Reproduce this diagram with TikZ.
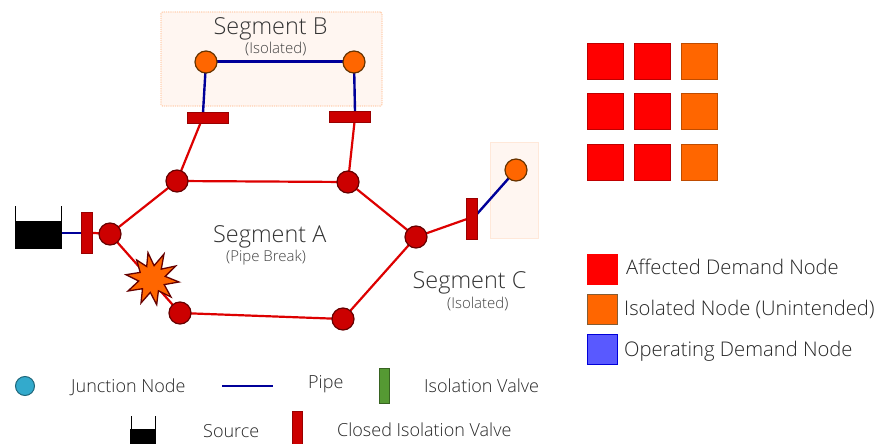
\documentclass[tikz,border=0pt]{standalone}
\usepackage{fontspec}
\setmainfont{Open Sans Light}[BoldFont={Open Sans}]
\definecolor{netred}{HTML}{CC0000}
\definecolor{linered}{HTML}{DD0000}
\definecolor{netredd}{HTML}{660000}
\definecolor{netor}{HTML}{FF6600}
\definecolor{netord}{HTML}{663300}
\definecolor{pipeblue}{HTML}{000099}
\definecolor{pale}{HTML}{FFF6F1}
\definecolor{jteal}{HTML}{33AACC}
\definecolor{vgreen}{HTML}{559933}
\tikzset{
  x=1pt,y=-1pt,
  jn/.style={circle,draw=netredd,fill=netred,line width=1.2pt,minimum size=22pt,inner sep=0pt},
  iso/.style={circle,draw=netord,fill=netor,line width=1.2pt,minimum size=22pt,inner sep=0pt},
  valve/.style={rectangle,draw=#1!75!black,fill=#1,line width=1pt,inner sep=0pt},
  rp/.style={draw=linered,line width=2.2pt},
  bp/.style={draw=pipeblue,line width=2.4pt},
  gs/.style={rectangle,draw=#1!75!black,fill=#1,line width=.8pt,minimum size=36pt,inner sep=0pt},
  ls/.style={rectangle,draw=#1,fill=#1,line width=.8pt,minimum size=30pt,inner sep=0pt},
  big/.style={text=black!80,anchor=base west,inner sep=0pt,font=\fontsize{23.4}{26}\selectfont},
  small/.style={text=black!75,anchor=base west,inner sep=0pt,font=\fontsize{15}{18}\selectfont},
  leg/.style={text=black!85,anchor=base west,inner sep=0pt,font=\fontsize{20.2}{24}\selectfont},
  low/.style={text=black!85,anchor=base west,inner sep=0pt,font=\fontsize{18}{21}\selectfont},
}
\begin{document}
\begin{tikzpicture}
\useasboundingbox (0,0) rectangle (876,444);
% segment backgrounds
\node (segB) at (271.5,59) [rectangle,draw=netor!30,fill=pale,densely dotted,line width=1.2pt,minimum width=221pt,minimum height=94pt,inner sep=0pt,rounded corners=1.5pt] {};
\node (segC) at (514,190) [rectangle,draw=netor!15,fill=pale,line width=.6pt,minimum width=48pt,minimum height=96pt,inner sep=0pt] {};
% node positions
\coordinate (b1) at (206,62);
\coordinate (b2) at (354,62);
\coordinate (c1) at (516,170);
\coordinate (a1) at (177,181);
\coordinate (a2) at (348,182);
\coordinate (a3) at (416,237);
\coordinate (a4) at (343,319);
\coordinate (a5) at (180,313);
\coordinate (a6) at (110,234);
\coordinate (srcR) at (62,232.5);
\coordinate (vb1) at (207.5,118);
\coordinate (vb2) at (350,116.5);
\coordinate (vl) at (86.5,232.5);
\coordinate (vc) at (472,219);
\coordinate (vb1r) at (200.5,123);
\coordinate (vb2r) at (354.5,122);
\coordinate (vb1b) at (203,113);
\coordinate (vb2b) at (355,111);
\coordinate (vcr) at (467,219);
\coordinate (vcb) at (477,214);
% pipes
\draw[rp] (vb1r) -- (a1);
\draw[rp] (vb2r) -- (a2);
\draw[rp] (a1) -- (a2);
\draw[rp] (a2) -- (a3);
\draw[rp] (a3) -- (a4);
\draw[rp] (a4) -- (a5);
\draw[rp] (a5) -- (a6);
\draw[rp] (a6) -- (a1);
\draw[rp] (a6) -- (vl);
\draw[rp] (a3) -- (vcr);
\draw[bp,line width=3pt] (b1) -- (b2);
\draw[bp] (b1) -- (vb1b);
\draw[bp] (b2) -- (vb2b);
\draw[bp] (c1) -- (vcb);
\draw[bp,line width=2pt] (srcR) -- (vl);
% source
\path[fill=black] (15,221) rectangle (62,249);
\draw[black,line width=1.3pt] (15.5,206) -- (15.5,222) (61.5,206) -- (61.5,222);
% nodes
\node[iso] (nb1) at (b1) {};
\node[iso] (nb2) at (b2) {};
\node[iso] (nc1) at (c1) {};
\node[jn] (na1) at (a1) {};
\node[jn] (na2) at (a2) {};
\node[jn] (na3) at (a3) {};
\node[jn] (na4) at (a4) {};
\node[jn] (na5) at (a5) {};
\node[jn] (na6) at (a6) {};
\node[valve=netred,minimum width=41pt,minimum height=10.5pt] (nvb1) at (vb1) {};
\node[valve=netred,minimum width=41pt,minimum height=11pt] (nvb2) at (vb2) {};
\node[valve=netred,minimum width=11pt,minimum height=41pt] (nvl) at (vl) {};
\node[valve=netred,minimum width=11pt,minimum height=41pt] (nvc) at (vc) {};
% break star
\draw[draw=netredd,fill=netor,line width=1.3pt,miter limit=10]
 (148,252.7) -- (154.1,265.7) -- (164,254) -- (161.3,269.1) -- (175.7,266) -- (165.2,276.4) -- (179,282)
 -- (164.2,284.6) -- (171,297) -- (158.4,290.8) -- (156.7,304.7) -- (150.3,292.4) -- (141,303) -- (142.5,288.7)
 -- (128,291) -- (138.7,281) -- (126,274.7) -- (140.2,272.4) -- (136.7,260) -- (146.7,266.5) -- cycle;
% labels
\node[big] (tB) at (213.5,34.7) {Segment B};
\node[small] (sB) at (245,53.3) {(Isolated)};
\node[big] (tA) at (213,242) {Segment A};
\node[small] (sA) at (226,261.3) {(Pipe Break)};
\node[big] (tC) at (412.5,288.7) {Segment C};
\node[small] (sC) at (447,308) {(Isolated)};
% grid
\foreach \x/\c [count=\i] in {605/red,652/red,699.5/netor}{
  \node[gs=\c] (ga\i) at (\x,61) {};
  \node[gs=\c] (gb\i) at (\x,111.5) {};
  \node[gs=\c] (gc\i) at (\x,162) {};
}
% right legend
\node[ls=red] (l1) at (602,269) {};
\node[ls=netor,draw=netord!80] (l2) at (602,309) {};
\node[rectangle,draw=blue!85!black,fill=blue!65!white,line width=.8pt,minimum size=30pt,inner sep=0pt] (l3) at (602,349) {};
\node[leg] (t1) at (626,274.7) {Affected Demand Node};
\node[leg] (t2) at (624,315.3) {Isolated Node (Unintended)};
\node[leg] (t3) at (624,356) {Operating Demand Node};
% bottom legend
\node[circle,draw=jteal!60!black,fill=jteal,line width=1pt,minimum size=19pt,inner sep=0pt] (ljn) at (25,386) {};
\node[low] (tjn) at (71,392.7) {Junction Node};
\coordinate (lp1) at (222,386); \coordinate (lp2) at (273,386);
\draw[bp] (lp1) -- (lp2);
\node[low] (tp) at (308,388.7) {Pipe};
\node[rectangle,draw=vgreen!65!black,fill=vgreen,line width=1pt,minimum width=10pt,minimum height=35pt,inner sep=0pt] (lv) at (384,386) {};
\node[low] (tv) at (424,392.7) {Isolation Valve};
\path[fill=black] (130,429) rectangle (156,444);
\draw[black,line width=1pt] (131,416) -- (131,430) (155.5,416) -- (155.5,430);
\node[low] (ts) at (203,437) {Source};
\node[valve=netred,minimum width=10pt,minimum height=36pt] (lcv) at (297,429) {};
\node[low] (tcv) at (337,436) {Closed Isolation Valve};
\end{tikzpicture}
\end{document}
